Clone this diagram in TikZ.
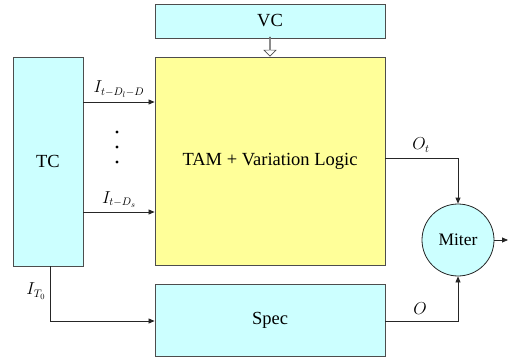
\documentclass[tikz,border=0pt]{standalone}
\usepackage{fontspec}
\setmainfont{Liberation Serif}
\usetikzlibrary{arrows.meta,shapes.arrows}
\definecolor{cyanfill}{HTML}{CCFFFF}
\definecolor{yelfill}{HTML}{FFFF99}
\definecolor{edge}{HTML}{4D4D4D}
\begin{document}
\begin{tikzpicture}[x=1pt,y=-1pt,
  box/.style={draw=edge,line width=0.9pt,inner sep=0pt},
  cbox/.style={box,fill=cyanfill},
  ybox/.style={box,fill=yelfill},
  conn/.style={draw=black!85,line width=0.8pt},
  arr/.style={conn,-{Triangle[length=6pt,width=5pt]}},
  lbl/.style={font=\fontsize{18.5}{20}\selectfont},
  mlbl/.style={font=\fontsize{16}{18}\selectfont}]
\useasboundingbox (0,0) rectangle (508,358);
% boxes
\node[cbox,minimum width=230pt,minimum height=34pt,lbl] (vc) at (270,21) {VC};
\node[ybox,minimum width=230pt,minimum height=208pt,lbl] (tam) at (270,161) {TAM + Variation Logic};
\node[cbox,minimum width=70pt,minimum height=209pt,lbl] (tc) at (48,161.5) {TC};
\node[cbox,minimum width=230pt,minimum height=72pt,lbl] (spec) at (270,320.5) {Spec};
\node[circle,draw=black!85,line width=0.8pt,fill=cyanfill,minimum size=72pt,inner sep=0pt,font=\fontsize{17.5}{19}\selectfont] (miter) at (458,240) {Miter};
% hollow arrow VC -> TAM
\node[single arrow,draw=edge,fill=white,line width=0.6pt,shape border rotate=270,
  minimum width=12pt,minimum height=19pt,single arrow head extend=2.5pt,
  single arrow tip angle=90,inner sep=0pt,anchor=tip] (va) at (tam.north) {};
% TC -> TAM arrows
\coordinate (t1) at (tc.east |- 0,102);
\coordinate (t2) at (tc.east |- 0,212);
\draw[arr] (t1) -- (tam.west |- t1) node[midway,above=1pt,mlbl] {$I_{t-D_l-D}$};
\draw[arr] (t2) -- (tam.west |- t2) node[midway,above=1pt,mlbl] {$I_{t-D_s}$};
\foreach \yy [count=\i] in {132,147,162} \fill (117,\yy) circle (1.6pt) coordinate (dot\i);
% TC -> Spec
\coordinate (b1) at (50,321);
\draw[arr] (tc.south -| b1) -- (b1) -- (spec.west |- b1);
\node[mlbl] (it0) at (36,291) {$I_{T_0}$};
% TAM -> Miter
\coordinate (o1) at (miter.north |- 0,158);
\draw[arr] (tam.east |- o1) -- (o1) -- (miter.north);
\node[mlbl] (ot) at (421,145) {$O_t$};
% Spec -> Miter
\coordinate (o2) at (miter.south |- 0,321);
\draw[arr] (spec.east |- o2) -- (o2) -- (miter.south);
\node[mlbl] (olbl) at (420,309) {$O$};
% Miter output
\coordinate (out) at (508,240);
\draw[arr] (miter.east) -- (out);
\end{tikzpicture}
\end{document}
